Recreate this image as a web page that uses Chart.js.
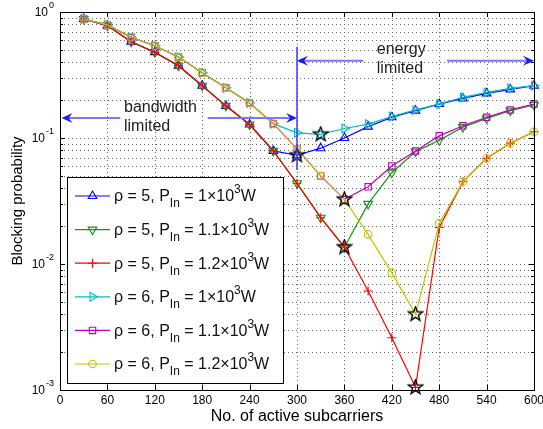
<!DOCTYPE html>
<html>
<head>
<meta charset="utf-8">
<script src="https://cdn.jsdelivr.net/npm/chart.js@4"></script>
<style>
  html, body { margin: 0; padding: 0; background: #fff; }
  #wrap { width: 543px; height: 429px; }
</style>
</head>
<body>
<div id="wrap"><canvas id="myChart" width="543" height="429"></canvas></div>
<script>
  // Number of active subcarriers
  var subcarriers = [30, 60, 90, 120, 150, 180, 210, 240, 270, 300,
                     330, 360, 390, 420, 450, 480, 510, 540, 570, 600];

  // Blocking probability, rho = 5
  var rho5P10 = [0.88, 0.78, 0.58, 0.48, 0.375, 0.26, 0.18, 0.128, 0.079, 0.073,
                 0.083, 0.10, 0.123, 0.146, 0.165, 0.186, 0.206, 0.226, 0.243, 0.26];
  var rho5P11 = [0.88, 0.78, 0.58, 0.48, 0.375, 0.26, 0.18, 0.128, 0.079, 0.0437,
                 0.0233, 0.0136, 0.030, 0.053, 0.078, 0.096, 0.122, 0.143, 0.165, 0.183];
  var rho5P12 = [0.88, 0.78, 0.58, 0.48, 0.375, 0.26, 0.18, 0.128, 0.079, 0.0437,
                 0.0233, 0.0136, 0.0061, 0.0026, 0.00105, 0.0195, 0.045, 0.069, 0.091, 0.112];

  // Blocking probability, rho = 6
  var rho6P10 = [0.88, 0.79, 0.63, 0.54, 0.44, 0.33, 0.25, 0.19, 0.13, 0.11,
                 0.107, 0.119, 0.129, 0.148, 0.167, 0.186, 0.21, 0.23, 0.248, 0.26];
  var rho6P11 = [0.88, 0.79, 0.63, 0.54, 0.44, 0.33, 0.25, 0.19, 0.13, 0.082,
                 0.050, 0.0326, 0.041, 0.060, 0.079, 0.104, 0.125, 0.146, 0.167, 0.186];
  var rho6P12 = [0.88, 0.79, 0.63, 0.54, 0.44, 0.33, 0.25, 0.19, 0.13, 0.082,
                 0.050, 0.0326, 0.0172, 0.0085, 0.0040, 0.021, 0.045, 0.069, 0.091, 0.112];

  // Legend pieces: rho, input power mantissa
  var rhoValues = ['5', '5', '5', '6', '6', '6'];
  var powerValues = ['1', '1.1', '1.2', '1', '1.1', '1.2'];

  // Axis ticks
  var xTicks = [0, 60, 120, 180, 240, 300, 360, 420, 480, 540, 600];
  var yDecades = [-3, -2, -1, 0];

  var series = [
    { data: rho5P10, color: '#0000ff', style: 'triangle', rotation: 0, radius: 5 },
    { data: rho5P11, color: '#119911', style: 'triangle', rotation: 180, radius: 5 },
    { data: rho5P12, color: '#ff0000', style: 'cross', rotation: 0, radius: 4.5 },
    { data: rho6P10, color: '#00bfbf', style: 'triangle', rotation: 90, radius: 5 },
    { data: rho6P11, color: '#c000c0', style: 'rect', rotation: 0, radius: 4.5 },
    { data: rho6P12, color: '#c4c400', style: 'circle', rotation: 0, radius: 3.8 }
  ];

  // Five-pointed star used to mark the minimum of each curve
  function makeStar() {
    var c = document.createElement('canvas');
    c.width = 17; c.height = 17;
    var g = c.getContext('2d');
    g.beginPath();
    for (var i = 0; i < 10; i++) {
      var r = i % 2 ? 3.1 : 7.6;
      var a = -Math.PI / 2 + i * Math.PI / 5;
      g.lineTo(8.5 + r * Math.cos(a), 8.5 + r * Math.sin(a));
    }
    g.closePath();
    g.lineWidth = 1.3;
    g.strokeStyle = '#000';
    g.stroke();
    return c;
  }

  var datasets = series.map(function (s, i) {
    return {
      data: subcarriers.map(function (x, k) { return { x: x, y: s.data[k] }; }),
      borderColor: s.color,
      backgroundColor: 'rgba(0,0,0,0)',
      borderWidth: 1.2,
      pointStyle: s.style,
      pointRotation: s.rotation,
      pointRadius: s.radius,
      pointBorderWidth: 1.1,
      pointBorderColor: s.color,
      pointBackgroundColor: 'rgba(0,0,0,0)',
      tension: 0,
      clip: false,
      order: 10 - i
    };
  });

  // minimum of every curve
  var minima = series.map(function (s) {
    var best = 0;
    s.data.forEach(function (v, k) { if (v < s.data[best]) best = k; });
    return { x: subcarriers[best], y: s.data[best] };
  });
  datasets.push({
    data: minima,
    showLine: false,
    pointStyle: makeStar(),
    pointRadius: 8,
    clip: false,
    order: 0
  });

  var FONT = '"Liberation Sans", Arial, Helvetica, sans-serif';

  function drawArrowHead(ctx, x, y, dir) {
    ctx.beginPath();
    ctx.moveTo(x, y);
    ctx.lineTo(x - dir * 11, y - 5);
    ctx.lineTo(x - dir * 7, y);
    ctx.lineTo(x - dir * 11, y + 5);
    ctx.closePath();
    ctx.fill();
  }

  // double arrow with a gap left for the caption
  function drawSpan(ctx, xs, ys, x0, x1, g0, g1, yv) {
    var y = ys.getPixelForValue(yv);
    var p0 = xs.getPixelForValue(x0), p1 = xs.getPixelForValue(x1);
    var q0 = xs.getPixelForValue(g0), q1 = xs.getPixelForValue(g1);
    ctx.strokeStyle = '#7777ff';
    ctx.lineWidth = 2;
    ctx.beginPath();
    ctx.moveTo(p0 + 6, y); ctx.lineTo(q0, y);
    ctx.moveTo(q1, y); ctx.lineTo(p1 - 6, y);
    ctx.stroke();
    ctx.fillStyle = '#1a1aff';
    drawArrowHead(ctx, p0, y, -1);
    drawArrowHead(ctx, p1, y, 1);
  }

  function drawRich(ctx, parts, x, y) {
    parts.forEach(function (p) {
      ctx.font = (p.k === 'main' ? '16px ' : '12px ') + FONT;
      var dy = p.k === 'sub' ? 7 : (p.k === 'sup' ? -7 : 0);
      ctx.fillText(p.t, x, y + dy);
      x += ctx.measureText(p.t).width;
    });
  }

  var matlabAxes = {
    id: 'matlabAxes',
    beforeDatasetsDraw: function (chart) {
      var ctx = chart.ctx, a = chart.chartArea;
      var xs = chart.scales.x, ys = chart.scales.y;
      ctx.save();
      ctx.setLineDash([1, 3]);
      ctx.strokeStyle = '#666';
      ctx.lineWidth = 1;
      ctx.beginPath();
      xTicks.slice(1, -1).forEach(function (v) {
        var px = Math.round(xs.getPixelForValue(v)) + 0.5;
        ctx.moveTo(px, a.top); ctx.lineTo(px, a.bottom);
      });
      yDecades.slice(0, -1).forEach(function (n) {
        for (var k = 1; k <= 9; k++) {
          if (n === -3 && k === 1) continue;
          var py = Math.round(ys.getPixelForValue(k * Math.pow(10, n))) + 0.5;
          ctx.moveTo(a.left, py); ctx.lineTo(a.right, py);
        }
      });
      ctx.stroke();
      ctx.restore();
    },
    afterDatasetsDraw: function (chart) {
      var ctx = chart.ctx, a = chart.chartArea;
      var xs = chart.scales.x, ys = chart.scales.y;
      ctx.save();

      // region markers
      drawSpan(ctx, xs, ys, 2, 300, 76, 187, 0.144);
      drawSpan(ctx, xs, ys, 300, 600, 384, 490, 0.41);
      ctx.strokeStyle = '#3a3aff';
      ctx.lineWidth = 1.5;
      var bx = xs.getPixelForValue(300);
      ctx.beginPath();
      ctx.moveTo(bx, ys.getPixelForValue(0.53));
      ctx.lineTo(bx, ys.getPixelForValue(0.0557));
      ctx.stroke();

      ctx.fillStyle = '#222';
      ctx.font = '16px ' + FONT;
      ctx.textAlign = 'left';
      ctx.textBaseline = 'middle';
      ctx.fillText('bandwidth', xs.getPixelForValue(81), ys.getPixelForValue(0.144) - 10);
      ctx.fillText('limited', xs.getPixelForValue(81), ys.getPixelForValue(0.144) + 9);
      ctx.fillText('energy', xs.getPixelForValue(401), ys.getPixelForValue(0.41) - 11);
      ctx.fillText('limited', xs.getPixelForValue(401), ys.getPixelForValue(0.41) + 8);

      // box and inward ticks
      ctx.strokeStyle = '#000';
      ctx.lineWidth = 1;
      ctx.strokeRect(a.left + 0.5, a.top + 0.5, a.right - a.left, a.bottom - a.top);
      ctx.beginPath();
      xTicks.forEach(function (v) {
        var px = Math.round(xs.getPixelForValue(v)) + 0.5;
        ctx.moveTo(px, a.bottom); ctx.lineTo(px, a.bottom - 5);
        ctx.moveTo(px, a.top); ctx.lineTo(px, a.top + 5);
      });
      yDecades.forEach(function (n) {
        for (var k = 1; k <= 9; k++) {
          var v = k * Math.pow(10, n);
          if (v > 1) break;
          var len = k === 1 ? 5 : 3;
          var py = Math.round(ys.getPixelForValue(v)) + 0.5;
          ctx.moveTo(a.left, py); ctx.lineTo(a.left + len, py);
          ctx.moveTo(a.right, py); ctx.lineTo(a.right - len, py);
        }
      });
      ctx.stroke();

      // tick labels
      ctx.fillStyle = '#000';
      ctx.font = '12px ' + FONT;
      ctx.textAlign = 'center';
      ctx.textBaseline = 'middle';
      xTicks.forEach(function (v) {
        ctx.fillText(String(v), xs.getPixelForValue(v), a.bottom + 11);
      });
      yDecades.forEach(function (n) {
        var py = ys.getPixelForValue(Math.pow(10, n));
        var exp = String(n);
        ctx.font = '9px ' + FONT;
        ctx.textAlign = 'right';
        ctx.fillText(exp, a.left - 6, py - 6);
        var ew = ctx.measureText(exp).width;
        ctx.font = '12px ' + FONT;
        ctx.fillText('10', a.left - 7 - ew, py + 1);
      });

      // axis titles
      ctx.font = '16px ' + FONT;
      ctx.textAlign = 'center';
      ctx.fillText('No. of active subcarriers', (a.left + a.right) / 2, 417);
      ctx.translate(18, (a.top + a.bottom) / 2);
      ctx.rotate(-Math.PI / 2);
      ctx.font = '15px ' + FONT;
      ctx.fillText('Blocking probability', 0, 0);
      ctx.restore();
    },
    afterDraw: function (chart) {
      var ctx = chart.ctx;
      ctx.save();
      ctx.fillStyle = '#fff';
      ctx.fillRect(67, 177, 216, 206);
      ctx.strokeStyle = '#000';
      ctx.lineWidth = 1;
      ctx.strokeRect(67.5, 177.5, 216, 206);
      series.forEach(function (s, i) {
        var y = 196 + i * 33.6;
        ctx.strokeStyle = s.color;
        ctx.lineWidth = 1.2;
        ctx.beginPath();
        ctx.moveTo(75, y); ctx.lineTo(110, y);
        ctx.stroke();
        ctx.fillStyle = 'rgba(0,0,0,0)';
        ctx.lineWidth = 1.1;
        Chart.helpers.drawPoint(ctx, {
          pointStyle: s.style, rotation: s.rotation, radius: s.radius, borderWidth: 1.1
        }, 92.5, y);
        ctx.fillStyle = '#111';
        ctx.textAlign = 'left';
        ctx.textBaseline = 'middle';
        drawRich(ctx, [
          { t: '\u03c1 = ' + rhoValues[i] + ', P', k: 'main' },
          { t: 'In', k: 'sub' },
          { t: ' = ' + powerValues[i] + '\u00d710', k: 'main' },
          { t: '3', k: 'sup' },
          { t: 'W', k: 'main' }
        ], 114, y + 1);
      });
      ctx.restore();
    }
  };

  var ctx = document.getElementById('myChart').getContext('2d');
  var chart = new Chart(ctx, {
    type: 'line',
    data: { datasets: datasets },
    options: {
      responsive: false,
      animation: false,
      layout: { padding: { left: 60, top: 12, right: 6, bottom: 39 } },
      scales: {
        x: { type: 'linear', min: 0, max: 600, display: false },
        y: { type: 'logarithmic', min: 0.001, max: 1, display: false }
      },
      plugins: { legend: { display: false }, tooltip: { enabled: false } }
    },
    plugins: [matlabAxes]
  });
</script>
</body>
</html>
